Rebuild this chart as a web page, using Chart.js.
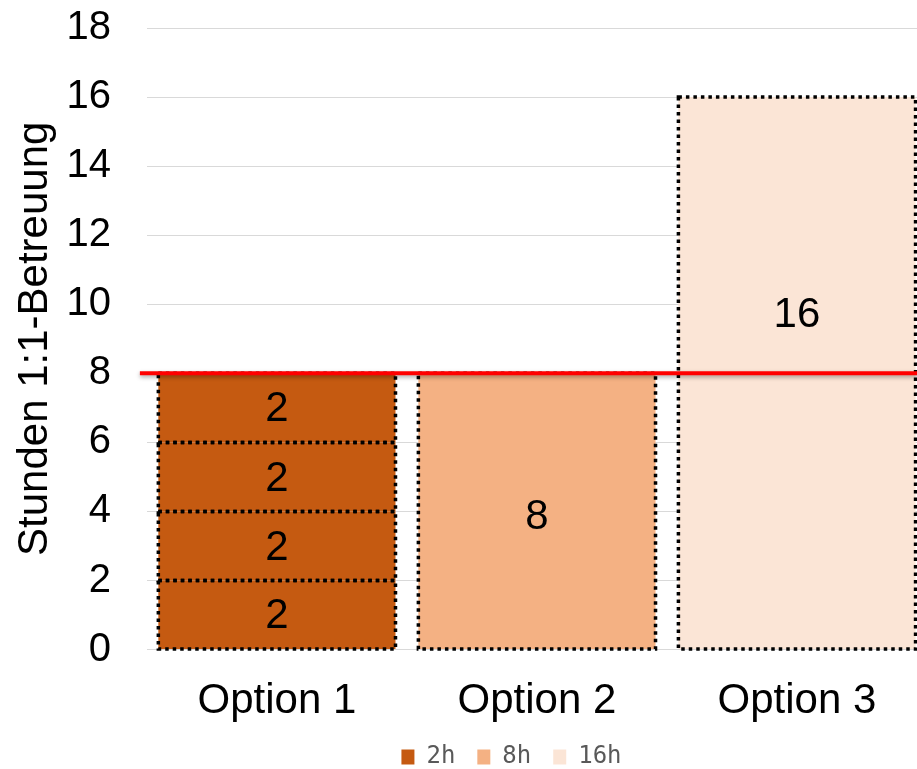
<!DOCTYPE html>
<html><head><meta charset="utf-8">
<script src="https://cdn.jsdelivr.net/npm/chart.js@4/dist/chart.umd.min.js"></script>
<style>
html,body{margin:0;padding:0;background:#fff;overflow:hidden;}
#wrap{width:927px;height:799px;position:relative;margin-top:-32px;}
</style></head><body>
<div id="wrap"><canvas id="c"></canvas></div>
<script>
// Categories, series and values
const categories = ['Option 1', 'Option 2', 'Option 3'];
const seriesNames = ['2h', '8h', '16h'];
const option1Blocks = [2, 2, 2, 2];
const option2Blocks = [8];
const option3Blocks = [16];
const thresholdHours = 8;
const yMax = 18;
const yStep = 2;
const yTitle = 'Stunden 1:1-Betreuung';

const seriesColors = ['#c55a11', '#f4b183', '#fbe5d6'];
const FONT = '"Liberation Sans", Arial, sans-serif';

// One stacked dataset per block, each bound to its category
function blockDatasets(catIndex, blocks, name, color, extra) {
  return blocks.map(v => Object.assign({
    label: name,
    data: categories.map((_, i) => (i === catIndex ? v : null)),
    backgroundColor: color,
    borderWidth: 0,
    stack: 'hours'
  }, extra || {}));
}

const datasets = [
  ...blockDatasets(0, option1Blocks, seriesNames[0], seriesColors[0]),
  ...blockDatasets(1, option2Blocks, seriesNames[1], seriesColors[1], { labelShift: 4 }),
  ...blockDatasets(2, option3Blocks, seriesNames[2], seriesColors[2], { labelShift: -60 })
];

// Dotted outline around every bar segment
const dottedOutline = {
  id: 'dottedOutline',
  afterDatasetsDraw(chart) {
    const ctx = chart.ctx;
    ctx.save();
    ctx.strokeStyle = '#000';
    ctx.lineWidth = 3.5;
    ctx.setLineDash([3.5, 4]);
    chart.data.datasets.forEach((ds, di) => {
      const meta = chart.getDatasetMeta(di);
      meta.data.forEach((el, i) => {
        if (ds.data[i] == null) return;
        const p = el.getProps(['x', 'y', 'base', 'width'], true);
        ctx.strokeRect(p.x - p.width / 2, p.y, p.width, p.base - p.y);
      });
    });
    ctx.restore();
  }
};

// Value labels centred in each segment
const valueLabels = {
  id: 'valueLabels',
  afterDatasetsDraw(chart) {
    const ctx = chart.ctx;
    ctx.save();
    ctx.fillStyle = '#000';
    ctx.font = '42px ' + FONT;
    ctx.textAlign = 'center';
    ctx.textBaseline = 'middle';
    chart.data.datasets.forEach((ds, di) => {
      const meta = chart.getDatasetMeta(di);
      meta.data.forEach((el, i) => {
        const v = ds.data[i];
        if (v == null) return;
        const p = el.getProps(['x', 'y', 'base'], true);
        ctx.fillText(String(v), p.x, (p.y + p.base) / 2 + 2 + (ds.labelShift || 0));
      });
    });
    ctx.restore();
  }
};

// Red threshold line
const thresholdLine = {
  id: 'thresholdLine',
  afterDatasetsDraw(chart) {
    const ctx = chart.ctx;
    const y = chart.scales.y.getPixelForValue(thresholdHours);
    const a = chart.chartArea;
    ctx.save();
    ctx.shadowColor = 'rgba(0,0,0,0.35)';
    ctx.shadowBlur = 4;
    ctx.shadowOffsetY = 2;
    ctx.strokeStyle = '#ff0000';
    ctx.lineWidth = 4;
    ctx.beginPath();
    ctx.moveTo(a.left - 7, y);
    ctx.lineTo(a.right, y);
    ctx.stroke();
    ctx.restore();
  }
};

// Move the legend block into place
const legendShift = {
  id: 'legendShift',
  afterLayout(chart) {
    const lg = chart.legend;
    if (!lg) return;
    const dx = 43, dy = -31;
    lg.left += dx; lg.right += dx;
    lg.top += dy; lg.bottom += dy;
  }
};

new Chart(document.getElementById('c'), {
  type: 'bar',
  data: { labels: categories, datasets },
  options: {
    responsive: true,
    maintainAspectRatio: false,
    animation: false,
    layout: { padding: { left: 10, right: 0, top: 0, bottom: -43 } },
    datasets: { bar: { categoryPercentage: 0.912, barPercentage: 1 } },
    scales: {
      x: {
        stacked: true,
        grid: { display: false, drawTicks: false },
        border: { display: false },
        ticks: { color: '#000', font: { family: FONT, size: 42 }, padding: 27 }
      },
      y: {
        stacked: true,
        min: 0,
        max: yMax,
        ticks: { stepSize: yStep, color: '#000', font: { family: FONT, size: 40 }, padding: 36 },
        grid: { color: '#d9d9d9', lineWidth: 1, drawTicks: false },
        border: { display: false },
        title: { display: true, text: yTitle, color: '#000', font: { family: FONT, size: 42 }, padding: { top: 0, bottom: -30 } }
      }
    },
    plugins: {
      tooltip: { enabled: false },
      legend: {
        position: 'bottom',
        labels: {
          boxWidth: 13,
          boxHeight: 15,
          padding: 22,
          color: '#595959',
          font: { family: '"DejaVu Sans Mono", monospace', size: 24 },
          filter: (item, data) => data.datasets.findIndex(d => d.label === item.text) === item.datasetIndex
        }
      }
    }
  },
  plugins: [dottedOutline, valueLabels, thresholdLine, legendShift]
});
</script>
</body></html>
